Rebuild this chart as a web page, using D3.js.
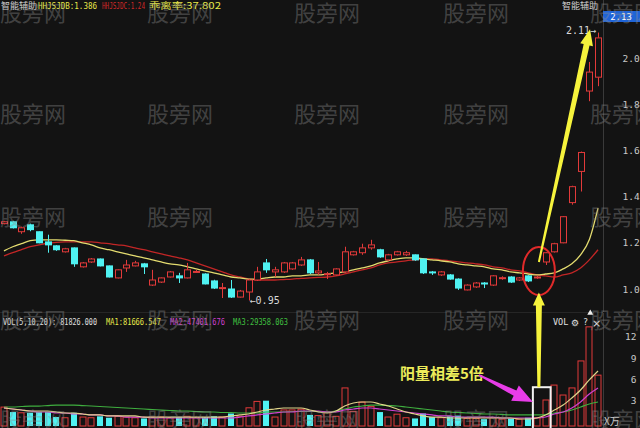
<!DOCTYPE html>
<html><head><meta charset="utf-8">
<script src="https://cdn.jsdelivr.net/npm/d3@7"></script>
<style>html,body{margin:0;padding:0;background:#131313;}svg{display:block;}</style>
</head><body>
<svg id="c" width="640" height="428"></svg>
<script>
// ---- data ----
const opens = [1.283,1.291,1.248,1.278,1.248,1.204,1.187,1.161,1.178,1.096, 1.117,1.130,1.100,1.048,1.091,1.100,1.109,1.017,1.030,1.052, 1.057,1.048,1.074,1.065,1.035,1.004,1.000,0.965,0.987,1.039, 1.113,1.074,1.074,1.087,1.104,1.126,1.070,1.065,1.061,1.074, 1.148,1.157,1.178,1.170,1.126,1.148,1.148,1.148,1.130,1.074, 1.061,1.061,1.043,0.996,1.009,1.026,1.017,1.048,1.052,1.039, 1.057,1.048,1.117,1.161,1.200,1.374,1.509,1.857,1.917];
const closes = [1.291,1.265,1.265,1.257,1.200,1.191,1.170,1.174,1.109,1.113, 1.130,1.100,1.052,1.083,1.104,1.113,1.096,1.039,1.048,1.074, 1.048,1.083,1.076,1.022,1.004,1.006,0.965,0.991,1.039,1.074, 1.083,1.083,1.113,1.113,1.126,1.070,1.078,1.066,1.087,1.161, 1.161,1.178,1.191,1.139,1.148,1.161,1.157,1.126,1.070,1.070, 1.074,1.043,1.004,1.017,1.026,1.024,1.057,1.049,1.030,1.048, 1.035,1.052,1.157,1.196,1.313,1.443,1.591,1.939,2.087];
const highs = [1.295,1.295,1.270,1.283,1.250,1.235,1.190,1.178,1.180,1.117, 1.134,1.132,1.102,1.085,1.126,1.122,1.113,1.083,1.050,1.078, 1.070,1.113,1.083,1.068,1.040,1.026,1.039,0.996,1.043,1.096, 1.130,1.096,1.117,1.117,1.139,1.130,1.117,1.074,1.090,1.183, 1.165,1.196,1.213,1.174,1.152,1.165,1.165,1.150,1.132,1.078, 1.078,1.065,1.046,1.020,1.030,1.030,1.060,1.055,1.055,1.052, 1.060,1.057,1.160,1.200,1.316,1.447,1.595,1.983,2.110];
const lows = [1.280,1.262,1.239,1.250,1.198,1.157,1.165,1.158,1.096,1.093, 1.113,1.098,1.050,1.046,1.074,1.098,1.065,1.013,1.026,1.050, 1.026,1.046,1.070,1.020,1.000,0.961,0.961,0.963,0.950,1.035, 1.070,1.052,1.070,1.083,1.100,1.065,1.061,1.043,1.058,1.070, 1.145,1.148,1.170,1.135,1.122,1.145,1.143,1.122,1.065,1.061, 1.057,1.040,0.996,0.994,1.005,1.004,1.013,1.040,1.026,1.035, 1.030,1.044,1.104,1.158,1.198,1.365,1.422,1.813,1.878];
const priceMA1 = [1.165,1.183,1.196,1.209,1.213,1.213,1.213,1.211,1.209,1.200, 1.191,1.178,1.170,1.161,1.152,1.143,1.135,1.126,1.117,1.109, 1.104,1.096,1.087,1.078,1.070,1.061,1.052,1.048,1.043,1.043, 1.048,1.052,1.052,1.057,1.057,1.061,1.061,1.065,1.070,1.074, 1.083,1.091,1.100,1.113,1.122,1.130,1.135,1.135,1.130,1.126, 1.122,1.117,1.109,1.104,1.100,1.096,1.087,1.083,1.074,1.070, 1.065,1.061,1.065,1.070,1.087,1.109,1.148,1.213,1.350];
const priceMA2 = [1.143,1.157,1.170,1.183,1.191,1.198,1.202,1.204,1.204,1.204, 1.204,1.200,1.196,1.191,1.187,1.178,1.170,1.161,1.152,1.143, 1.135,1.126,1.113,1.100,1.087,1.074,1.061,1.052,1.043,1.039, 1.039,1.039,1.041,1.043,1.046,1.048,1.050,1.052,1.057,1.065, 1.074,1.083,1.091,1.104,1.113,1.117,1.122,1.126,1.130,1.130, 1.126,1.122,1.117,1.113,1.109,1.104,1.096,1.091,1.083,1.078, 1.070,1.061,1.057,1.052,1.061,1.070,1.091,1.126,1.170];
const volumes = [2.1,1.4,1.3,1.3,1.4,1.4,0.7,0.6,1.3,0.7, 0.6,0.8,0.6,0.8,0.7,0.6,0.5,0.7,0.7,0.6, 0.7,0.8,0.6,0.7,0.8,0.7,1.2,0.8,2.0,2.9, 3.0,0.7,1.7,1.7,1.8,1.0,0.9,1.4,0.8,4.8, 1.5,2.8,2.2,1.4,0.7,1.1,0.6,0.5,1.2,0.7, 0.6,0.8,0.9,0.5,0.5,0.4,0.6,0.4,0.5,0.4, 0.6,0.6,3.1,5.2,3.8,4.8,8.6,13.4,6.6];
const volMA1 = [1.97,1.83,1.69,1.55,1.55,1.55,1.41,1.27,1.27,1.13, 0.99,0.99,0.85,0.85,0.85,0.85,0.70,0.70,0.70,0.70, 0.70,0.70,0.70,0.70,0.70,0.70,0.85,0.99,1.13,1.41, 1.69,1.83,1.97,1.97,1.97,1.69,1.41,1.27,1.55,2.25, 2.68,2.82,2.82,2.54,2.25,1.83,1.41,1.13,0.85,0.70, 0.70,0.56,0.56,0.56,0.56,0.56,0.56,0.56,0.56,0.42, 0.42,0.56,0.99,1.69,2.39,3.38,4.51,5.92,7.18];
const volMA2 = [1.97,1.83,1.69,1.55,1.41,1.41,1.27,1.27,1.13,1.13, 0.99,0.99,0.85,0.85,0.70,0.70,0.70,0.56,0.56,0.56, 0.56,0.56,0.56,0.56,0.56,0.56,0.56,0.70,0.85,0.99, 1.13,1.27,1.41,1.41,1.55,1.55,1.55,1.41,1.41,1.69, 1.83,1.97,1.97,1.83,1.69,1.55,1.41,1.27,1.13,0.99, 0.85,0.85,0.70,0.70,0.70,0.70,0.70,0.56,0.56,0.56, 0.56,0.56,0.70,1.13,1.41,1.97,2.82,3.94,4.79];
const volMA3 = [2.11,2.11,2.18,2.25,2.25,2.32,2.39,2.39,2.39,2.32, 2.25,2.18,2.11,2.04,1.97,1.90,1.83,1.76,1.69,1.62, 1.55,1.55,1.48,1.41,1.41,1.34,1.34,1.27,1.27,1.27, 1.41,1.41,1.41,1.48,1.48,1.48,1.48,1.41,1.55,1.83, 2.11,2.25,2.39,2.39,2.32,2.25,2.11,1.97,1.83,1.69, 1.55,1.41,1.34,1.27,1.20,1.13,1.13,1.06,0.99,0.99, 0.99,0.99,1.06,1.27,1.41,1.69,2.11,2.54,2.82];
const priceTicks = [1.0,1.2,1.4,1.6,1.8,2.0];
const volTicks = [3,6,9,12];
const headerTexts = ["HHJSJDB:1.386","HHJSJDC:1.24","乖离率:37.802"];
const volTexts = ["VOL(5,10,20): 81826.000","MA1:81666.547","MA2:47401.676","MA3:29358.063"];
const watermark = "股旁网";

// ---- drawing ----
const W = 640, H = 428, BG = "#131313";
const UP = "#e23a3a", DOWN = "#4ff2f2";
const svg = d3.select("#c");
svg.append("rect").attr("width", W).attr("height", H).attr("fill", BG);

const n = opens.length;
const x = d3.scaleBand().domain(d3.range(n)).range([-0.4, 602.4]).paddingInner(0.28).paddingOuter(0.14);
const bw = x.bandwidth();
const cx = i => x(i) + bw / 2;
const y = d3.scaleLinear().domain([1.0, 2.0]).range([289, 58]);
const yv = d3.scaleLinear().domain([0, 12]).range([422, 336.8]);

const mono = "'DejaVu Sans Mono', monospace";
const cjk = "'Noto Sans CJK SC', sans-serif";

// panel separator
svg.append("line").attr("x1", 0).attr("x2", 603).attr("y1", 312.5).attr("y2", 312.5).attr("stroke", "#262626");

// price axis
const pAxis = svg.append("g").attr("transform", "translate(603.5,0)")
  .call(d3.axisRight(y).tickValues(priceTicks).tickFormat(d3.format(".1f")).tickSize(0).tickPadding(19));
pAxis.select(".domain").attr("stroke", "#3a3a3a").attr("d", "M0,0V312");
pAxis.selectAll("text").attr("fill", "#c8c8c8").style("font-family", mono).style("font-size", "9.5px");

// volume axis
const vAxis = svg.append("g").attr("transform", "translate(603.5,0)")
  .call(d3.axisRight(yv).tickValues(volTicks).tickSize(0).tickPadding(0));
vAxis.select(".domain").attr("stroke", "#3a3a3a").attr("d", "M0,313V428");
vAxis.selectAll("text").attr("fill", "#c8c8c8").attr("text-anchor", "end").attr("x", 33).style("font-family", mono).style("font-size", "9.5px");

// price moving averages
const line = d3.line().x((d, i) => cx(i)).y(d => y(d)).curve(d3.curveMonotoneX);
svg.append("path").datum(priceMA2).attr("d", line).attr("fill", "none").attr("stroke", "#c22626").attr("stroke-width", 1.3);
svg.append("path").datum(priceMA1).attr("d", line).attr("fill", "none").attr("stroke", "#e4dc70").attr("stroke-width", 1.3);

// candles
const candles = svg.append("g").selectAll("g").data(d3.range(n)).join("g");
candles.each(function (i) {
  const g = d3.select(this);
  const up = closes[i] >= opens[i];
  const col = up ? UP : DOWN;
  const top = y(Math.max(opens[i], closes[i]));
  const bot = y(Math.min(opens[i], closes[i]));
  const c = Math.round(cx(i)) + 0.5;
  g.append("line").attr("x1", c).attr("x2", c).attr("y1", y(highs[i])).attr("y2", top).attr("stroke", col);
  g.append("line").attr("x1", c).attr("x2", c).attr("y1", bot).attr("y2", y(lows[i])).attr("stroke", col);
  const h = Math.max(1, bot - top);
  if (up) {
    g.append("rect").attr("x", c - 3).attr("y", top).attr("width", 6).attr("height", h)
      .attr("fill", BG).attr("stroke", col).attr("stroke-width", 1);
  } else {
    g.append("rect").attr("x", c - 3.5).attr("y", top - 0.5).attr("width", 7).attr("height", h + 1).attr("fill", col);
  }
});

// volume bars
svg.append("g").selectAll("rect").data(d3.range(n)).join("rect")
  .attr("x", i => Math.round(cx(i)) - 3)
  .attr("y", i => yv(volumes[i]))
  .attr("width", 6)
  .attr("height", i => yv(0) - yv(volumes[i]) + 4)
  .attr("fill", i => closes[i] >= opens[i] ? BG : DOWN)
  .attr("stroke", i => closes[i] >= opens[i] ? UP : "none");

// volume moving averages
const vline = d3.line().x((d, i) => cx(i)).y(d => yv(d)).curve(d3.curveMonotoneX);
svg.append("path").datum(volMA3).attr("d", vline).attr("fill", "none").attr("stroke", "#3fae3f").attr("stroke-width", 1.2);
svg.append("path").datum(volMA2).attr("d", vline).attr("fill", "none").attr("stroke", "#d040d0").attr("stroke-width", 1.2);
svg.append("path").datum(volMA1).attr("d", vline).attr("fill", "none").attr("stroke", "#e0d48a").attr("stroke-width", 1.2);

// max volume marker
const mi = volumes.indexOf(d3.max(volumes));
svg.append("path").attr("d", d3.symbol(d3.symbolTriangle, 16)()).attr("fill", "#eee")
  .attr("transform", `translate(${cx(mi) + 1},${313})`);

// labels on price extremes
const hi = highs.indexOf(d3.max(highs));
svg.append("text").attr("x", cx(hi) - 2).attr("y", y(highs[hi]) + 1).attr("text-anchor", "end")
  .attr("fill", "#d8d8d8").style("font-family", mono).style("font-size", "10px").text(d3.format(".2f")(highs[hi]) + "→");
const lo = lows.indexOf(d3.min(lows));
svg.append("text").attr("x", cx(lo) + 1).attr("y", y(lows[lo]) + 3.5)
  .attr("fill", "#d8d8d8").style("font-family", mono).style("font-size", "10px").text("←" + d3.format(".2f")(lows[lo]));

// header
svg.append("text").attr("x", 1).attr("y", 9).attr("fill", "#cfcfcf").style("font-family", cjk).style("font-size", "9px").text("智能辅助");
const hdrX = [38, 102, 149], hdrW = [59, 43, 72], hdrC = ["#e8e84a", "#d02828", "#e8e84a"];
headerTexts.forEach((t, k) => {
  svg.append("text").attr("x", hdrX[k]).attr("y", 9).attr("fill", hdrC[k])
    .attr("textLength", hdrW[k]).attr("lengthAdjust", "spacingAndGlyphs")
    .style("font-family", k === 2 ? cjk : mono).style("font-size", "9px").text(t);
});
svg.append("text").attr("x", 562).attr("y", 9).attr("fill", "#cfcfcf").style("font-family", cjk).style("font-size", "9px").text("智能辅助");
svg.append("rect").attr("x", 603).attr("y", 11).attr("width", 37).attr("height", 11).attr("fill", "#1f64d8");
svg.append("text").attr("x", 621).attr("y", 20).attr("text-anchor", "middle").attr("fill", "#fff").style("font-family", mono).style("font-size", "9px").text("2.13");

// volume header
const vX = [3, 106, 170, 233], vW = [94, 55, 55, 55], vC = ["#e0e0e0", "#e8e84a", "#d040d0", "#40c040"];
volTexts.forEach((t, k) => {
  svg.append("text").attr("x", vX[k]).attr("y", 325).attr("fill", vC[k])
    .attr("textLength", vW[k]).attr("lengthAdjust", "spacingAndGlyphs")
    .style("font-family", mono).style("font-size", "9px").text(t);
});
svg.append("text").attr("x", 553).attr("y", 325).attr("fill", "#e0e0e0").style("font-family", mono).style("font-size", "8.5px").text("VOL");
svg.append("text").attr("x", 571).attr("y", 326).attr("fill", "#e0e0e0").style("font-family", "'DejaVu Sans'").style("font-size", "9px").text("⚙");
svg.append("text").attr("x", 583).attr("y", 325).attr("fill", "#e0e0e0").style("font-family", mono).style("font-size", "8.5px").text("?");
svg.append("text").attr("x", 592).attr("y", 327).attr("fill", "#e0e0e0").style("font-family", "'DejaVu Sans'").style("font-size", "11px").text("×");
svg.append("text").attr("x", 604).attr("y", 425).attr("fill", "#d0d0d0").style("font-family", cjk).style("font-size", "10px").text("X万");

// ---- annotations ----
function arrow(x1, y1, x2, y2, w0, w1, hw, hl, fill) {
  const dx = x2 - x1, dy = y2 - y1, L = Math.hypot(dx, dy);
  const ux = dx / L, uy = dy / L, px = -uy, py = ux;
  const bx = x2 - ux * hl, by = y2 - uy * hl;
  const pts = [
    [x1 + px * w0 / 2, y1 + py * w0 / 2],
    [bx + px * w1 / 2, by + py * w1 / 2],
    [bx + px * hw / 2, by + py * hw / 2],
    [x2, y2],
    [bx - px * hw / 2, by - py * hw / 2],
    [bx - px * w1 / 2, by - py * w1 / 2],
    [x1 - px * w0 / 2, y1 - py * w0 / 2]
  ];
  svg.append("polygon").attr("points", pts.map(p => p.join(",")).join(" ")).attr("fill", fill);
}
const k0 = n - 8; // the breakout-eve candle
svg.append("ellipse").attr("cx", cx(k0) + 2).attr("cy", y(1.078)).attr("rx", 16).attr("ry", 24)
  .attr("fill", "none").attr("stroke", "#e02a2a").attr("stroke-width", 2);
svg.append("rect").attr("x", cx(k0) - 4).attr("y", yv(4.9)).attr("width", cx(k0 + 1) + 5 - (cx(k0) - 4)).attr("height", 50)
  .attr("fill", "none").attr("stroke", "#f2f2f2").attr("stroke-width", 2);
arrow(cx(k0) + 2, y(1.117), cx(hi) - 8, y(2.125), 2, 6, 13, 16, "#f6f33c");
arrow(cx(k0) + 2, yv(4.9), cx(k0) + 2, y(0.985), 3, 6, 12, 13, "#f6f33c");
svg.append("text").attr("x", 400).attr("y", 379).attr("fill", "#ecec5a").style("font-family", cjk).style("font-size", "15px").style("font-weight", "bold").text("阳量相差5倍");
arrow(479, 375, cx(k0) - 4, yv(2.8), 1.5, 6, 17, 20, "#e83ce8");

// watermarks
const wmX = [0, 147, 294, 443, 590], wmY = [21, 122, 225, 328, 428];
wmY.forEach(wy => wmX.forEach(wx => {
  svg.append("text").attr("x", wx).attr("y", wy).attr("fill", "rgba(140,140,140,0.40)")
    .style("font-family", cjk).style("font-size", "22px").text(watermark);
}));
</script>
</body></html>
